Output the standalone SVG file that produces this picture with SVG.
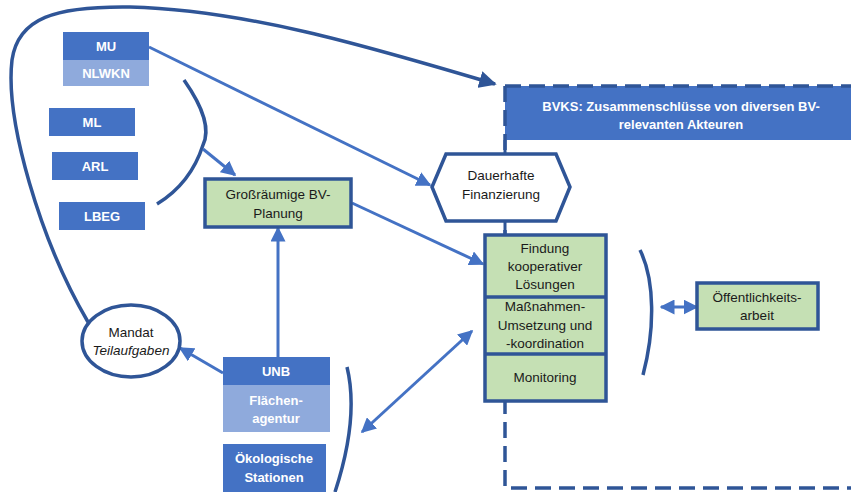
<svg xmlns="http://www.w3.org/2000/svg" width="851" height="492" viewBox="0 0 851 492">
<defs>
<style>
.lbl{font-family:"Liberation Sans",Arial,sans-serif;font-size:13.5px;fill:#1a1a1a;text-anchor:middle}
.wl{font-family:"Liberation Sans",Arial,sans-serif;font-size:13px;font-weight:bold;fill:#ffffff;text-anchor:middle}
.dk{fill:#4472C4}
.lt{fill:#8FAADC}
.gr{fill:#C5E0B4;stroke:#2F5597;stroke-width:3.5}
.nav{fill:none;stroke:#2F5597;stroke-width:3.5}
.ar{fill:none;stroke:#4472C4;stroke-width:3}
</style>
<marker id="ah" viewBox="0 0 10 10" refX="9" refY="5" markerWidth="5" markerHeight="5" orient="auto-start-reverse" markerUnits="strokeWidth">
<path d="M0,0 L10,5 L0,10 z" fill="#4472C4"/>
</marker>
<marker id="ahn" viewBox="0 0 10 10" refX="9" refY="5" markerWidth="5" markerHeight="5" orient="auto" markerUnits="strokeWidth">
<path d="M0,0 L10,5 L0,10 z" fill="#2F5597"/>
</marker>
</defs>
<rect width="851" height="492" fill="#ffffff"/>

<g id="bvks">
<rect x="505" y="86" width="350" height="54" class="dk"/>
<path d="M505,86 H851 M505,86 V488 H851" fill="none" stroke="#2F5597" stroke-width="3.5" stroke-dasharray="16 8"/>
<text class="wl" x="681" y="111" font-size="12.5">BVKS: Zusammenschlüsse von diversen BV-</text>
<text class="wl" x="681" y="129" font-size="12.5">relevanten Akteuren</text>
</g>

<g id="connectors">
<path d="M88,322 C40,240 5,120 12,60 C18,18 55,6 130,7 C250,10 380,50 495,84" class="nav" stroke-width="3" marker-end="url(#ahn)"/>
<line x1="505" y1="140" x2="505" y2="154" stroke="#2F5597" stroke-width="3"/>
<line x1="505" y1="222" x2="505" y2="235" stroke="#2F5597" stroke-width="3"/>
<line x1="149" y1="47" x2="430" y2="185" class="ar" marker-end="url(#ah)"/>
<path d="M184,80 C205,110 210,130 203,145 C195,170 180,190 157,204" class="nav" stroke-width="3"/>
<line x1="203" y1="149" x2="235" y2="175" class="ar" marker-end="url(#ah)"/>
<line x1="352" y1="203" x2="483" y2="264" class="ar" marker-end="url(#ah)"/>
<line x1="278" y1="357" x2="278" y2="228" class="ar" marker-end="url(#ah)"/>
<line x1="223" y1="373" x2="180" y2="348" class="ar" marker-end="url(#ah)"/>
<path d="M347,367 C355,400 352,440 335,492" class="nav" stroke-width="3"/>
<line x1="362" y1="432" x2="472" y2="331" class="ar" marker-start="url(#ah)" marker-end="url(#ah)"/>
<path d="M640,250 C655,280 655,330 643,375" class="nav" stroke-width="3"/>
<line x1="661" y1="307" x2="697" y2="307" class="ar" marker-start="url(#ah)" marker-end="url(#ah)"/>
</g>

<g id="mu">
<rect x="63" y="32" width="86" height="28" class="dk"/>
<text class="wl" x="106" y="51">MU</text>
</g>
<g id="nlwkn">
<rect x="63" y="60" width="86" height="26" class="lt"/>
<text class="wl" x="106" y="78">NLWKN</text>
</g>
<g id="ml">
<rect x="49" y="108" width="86" height="28" class="dk"/>
<text class="wl" x="92" y="127">ML</text>
</g>
<g id="arl">
<rect x="52" y="152" width="86" height="28" class="dk"/>
<text class="wl" x="95" y="171">ARL</text>
</g>
<g id="lbeg">
<rect x="59" y="202" width="86" height="28" class="dk"/>
<text class="wl" x="102" y="221">LBEG</text>
</g>

<g id="grossraeumig">
<rect x="205" y="179" width="146" height="48" class="gr" stroke-width="3"/>
<text class="lbl" x="278" y="199">Großräumige BV-</text>
<text class="lbl" x="278" y="218">Planung</text>
</g>

<g id="finanzierung">
<polygon points="432,187 446,154 556,154 570,187 556,221 446,221" fill="#ffffff" stroke="#2F5597" stroke-width="3.5"/>
<text class="lbl" x="501" y="180">Dauerhafte</text>
<text class="lbl" x="501" y="199">Finanzierung</text>
</g>

<g id="massnahmen-block">
<rect x="485" y="235" width="121" height="166" class="gr"/>
<line x1="485" y1="297" x2="606" y2="297" stroke="#2F5597" stroke-width="3.5"/>
<line x1="485" y1="354" x2="606" y2="354" stroke="#2F5597" stroke-width="3.5"/>
<text class="lbl" x="545" y="253">Findung</text>
<text class="lbl" x="545" y="271">kooperativer</text>
<text class="lbl" x="545" y="289">Lösungen</text>
<text class="lbl" x="545" y="311">Maßnahmen-</text>
<text class="lbl" x="545" y="330">Umsetzung und</text>
<text class="lbl" x="545" y="348">-koordination</text>
<text class="lbl" x="545" y="382">Monitoring</text>
</g>

<g id="oeffentlichkeit">
<rect x="697" y="283" width="121" height="46" class="gr"/>
<text class="lbl" x="757" y="302">Öffentlichkeits-</text>
<text class="lbl" x="757" y="320">arbeit</text>
</g>

<g id="mandat">
<ellipse cx="131" cy="341" rx="49" ry="36" fill="#ffffff" stroke="#2F5597" stroke-width="3.5"/>
<text class="lbl" x="131" y="337">Mandat</text>
<text class="lbl" x="131" y="355" font-style="italic">Teilaufgaben</text>
</g>

<g id="unb">
<rect x="223" y="357" width="107" height="28" class="dk"/>
<text class="wl" x="276" y="376">UNB</text>
</g>
<g id="flaechenagentur">
<rect x="223" y="385" width="107" height="47" class="lt"/>
<text class="wl" x="276" y="405">Flächen-</text>
<text class="wl" x="276" y="423">agentur</text>
</g>
<g id="oekostationen">
<rect x="223" y="444" width="103" height="48" class="dk"/>
<text class="wl" x="274" y="463">Ökologische</text>
<text class="wl" x="274" y="482">Stationen</text>
</g>
</svg>
